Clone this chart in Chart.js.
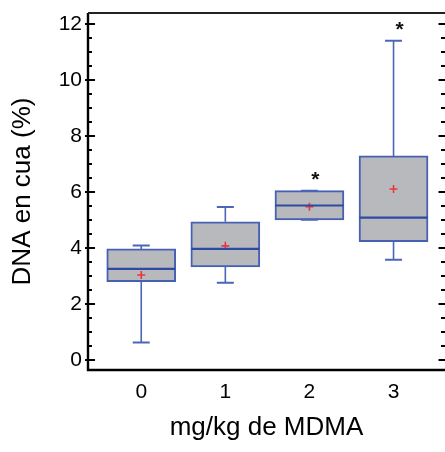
<!DOCTYPE html>
<html><head><meta charset="utf-8">
<script src="https://cdn.jsdelivr.net/npm/chart.js@4.4.0/dist/chart.umd.min.js"></script>
<style>html,body{margin:0;padding:0;background:#fff;}canvas{display:block;}</style>
</head><body>
<canvas id="c" width="445" height="452"></canvas>
<script>
// ---- data ----
const categories = ['0', '1', '2', '3'];          // mg/kg de MDMA
const doseIndex = [0, 1, 2, 3];
const whiskerLow = [0.63, 2.76, 5.01, 3.58];
const q1 = [2.80, 3.33, 5.01, 4.23];
const medians = [3.26, 3.97, 5.52, 5.09];
const q3 = [3.97, 4.94, 6.05, 7.29];
const whiskerHigh = [4.09, 5.47, 6.05, 11.40];
const means = [3.04, 4.08, 5.48, 6.11];
const significance = ['', '', '*', '*'];
const significanceY = [null, null, 6.65, 12.0];
const yTicks = [0, 2, 4, 6, 8, 10, 12];
const yMinorStep = 0.5;

const FONT = "'Liberation Sans', Arial, sans-serif";
Chart.defaults.font.family = FONT;

const boxData = doseIndex.map((x, i) => ({ x: x, y: [q1[i], q3[i]] }));

const overlay = {
  id: 'overlay',
  afterDatasetsDraw(chart) {
    const ctx = chart.ctx, xs = chart.scales.x, ys = chart.scales.y;
    const a = chart.chartArea;
    ctx.save();
    // whiskers
    ctx.strokeStyle = '#4b66b9';
    doseIndex.forEach((v, i) => {
      const px = xs.getPixelForValue(v);
      ctx.lineWidth = 1.6;
      ctx.beginPath();
      ctx.moveTo(px, ys.getPixelForValue(q3[i])); ctx.lineTo(px, ys.getPixelForValue(whiskerHigh[i]));
      ctx.moveTo(px, ys.getPixelForValue(q1[i])); ctx.lineTo(px, ys.getPixelForValue(whiskerLow[i]));
      ctx.stroke();
      ctx.lineWidth = 2;
      ctx.beginPath();
      [whiskerHigh[i], whiskerLow[i]].forEach(w => {
        const py = ys.getPixelForValue(w);
        ctx.moveTo(px - 8.5, py); ctx.lineTo(px + 8.5, py);
      });
      ctx.stroke();
    });
    // means (red +)
    ctx.strokeStyle = '#e8383d';
    ctx.lineWidth = 1.6;
    doseIndex.forEach((v, i) => {
      const px = xs.getPixelForValue(v), py = ys.getPixelForValue(means[i]);
      ctx.beginPath();
      ctx.moveTo(px - 4, py); ctx.lineTo(px + 4, py);
      ctx.moveTo(px, py - 4); ctx.lineTo(px, py + 4);
      ctx.stroke();
    });
    // medians
    ctx.strokeStyle = '#2f4aa2';
    ctx.lineWidth = 2.2;
    doseIndex.forEach((v, i) => {
      const px = xs.getPixelForValue(v), py = ys.getPixelForValue(medians[i]);
      ctx.beginPath();
      ctx.moveTo(px - 34, py); ctx.lineTo(px + 34, py);
      ctx.stroke();
    });
    // significance marks
    ctx.fillStyle = '#111';
    ctx.font = 'bold 21px ' + FONT;
    ctx.textAlign = 'center';
    ctx.textBaseline = 'alphabetic';
    doseIndex.forEach((v, i) => {
      if (!significance[i]) return;
      const px = xs.getPixelForValue(v) + 6, py = ys.getPixelForValue(significanceY[i]);
      ctx.fillText(significance[i], px, py + 12);
    });
    // frame lines
    ctx.strokeStyle = '#000';
    ctx.lineWidth = 2.4;
    ctx.beginPath();
    ctx.moveTo(a.left, a.top); ctx.lineTo(a.left, a.bottom);
    ctx.moveTo(a.left - 1.2, a.bottom); ctx.lineTo(a.right, a.bottom);
    ctx.stroke();
    ctx.lineWidth = 2;
    ctx.strokeStyle = '#222';
    ctx.beginPath();
    ctx.moveTo(a.left, a.top); ctx.lineTo(a.right, a.top);
    ctx.stroke();
    // tick marks
    ctx.strokeStyle = '#000';
    ctx.lineWidth = 2;
    const yMax = yTicks[yTicks.length - 1];
    for (let k = 0; k * yMinorStep <= yMax + 1e-9; k++) {
      const val = k * yMinorStep;
      const major = yTicks.includes(val);
      const py = Math.round(ys.getPixelForValue(val));
      ctx.beginPath();
      if (major) {
        ctx.moveTo(a.left - 3, py); ctx.lineTo(a.left + 7, py);
        ctx.moveTo(a.right - 6.5, py); ctx.lineTo(a.right, py);
      } else {
        ctx.moveTo(a.left, py); ctx.lineTo(a.left + 4, py);
        ctx.moveTo(a.right - 4, py); ctx.lineTo(a.right, py);
      }
      ctx.stroke();
    }
    ctx.restore();
  }
};

new Chart(document.getElementById('c'), {
  type: 'bar',
  data: {
    datasets: [{
      data: boxData,
      backgroundColor: '#b8b9bd',
      borderColor: '#4660b2',
      borderWidth: 2,
      borderSkipped: false,
      barThickness: 69
    }]
  },
  options: {
    responsive: false,
    animation: false,
    devicePixelRatio: 1,
    layout: { padding: { top: 13, left: 0, right: 0, bottom: 0 } },
    plugins: { legend: { display: false }, tooltip: { enabled: false } },
    scales: {
      x: {
        type: 'linear', min: -0.633, max: 3.612, offset: false,
        grid: { display: false, drawTicks: false, offset: false }, border: { display: false },
        afterBuildTicks: s => { s.ticks = doseIndex.map(v => ({ value: v })); },
        afterFit: s => { s.height = 82; s.paddingLeft = 0; s.paddingRight = 0; },
        ticks: {
          callback: v => categories[doseIndex.indexOf(v)],
          font: { size: 21 }, color: '#000', padding: 10, maxRotation: 0, autoSkip: false
        },
        title: { display: true, text: 'mg/kg de MDMA', font: { size: 26 }, color: '#000', padding: { top: 0, bottom: 9 } }
      },
      y: {
        type: 'linear', min: -0.35, max: 12.39,
        grid: { display: false, drawTicks: false }, border: { display: false },
        afterBuildTicks: s => { s.ticks = yTicks.map(v => ({ value: v })); },
        afterFit: s => { s.width = 88; s.paddingTop = 0; s.paddingBottom = 0; },
        ticks: { font: { size: 21 }, color: '#000', padding: 6, autoSkip: false },
        title: { display: true, text: 'DNA en cua (%)', font: { size: 26 }, color: '#000', padding: { top: 7, bottom: 0 } }
      }
    }
  },
  plugins: [overlay]
});
</script>
</body></html>
